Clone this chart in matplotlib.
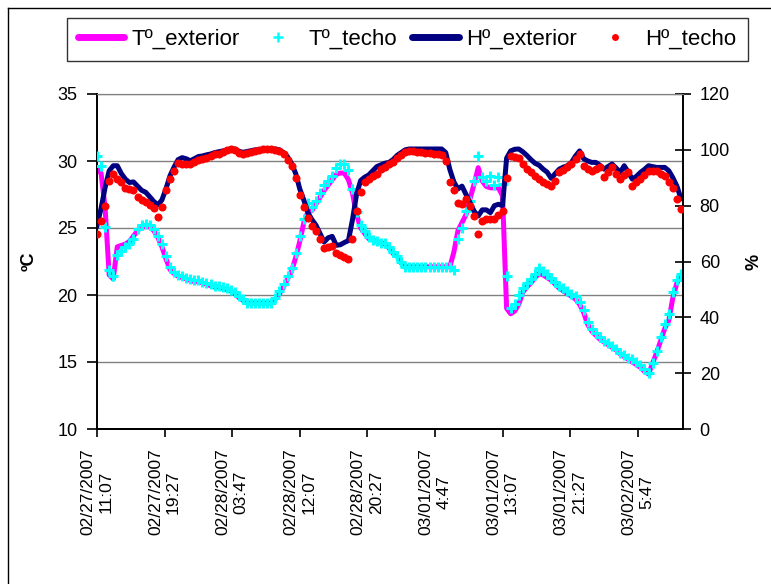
import numpy as np
import matplotlib
matplotlib.use("Agg")
import matplotlib.pyplot as plt
from matplotlib.lines import Line2D

plt.rcParams["font.family"] = ["Liberation Sans", "DejaVu Sans"]

# half-hourly readings starting 02/27/2007 11:07
t_exterior = [
    29.4, 29.1, 26.5, 21.5, 21.2, 23.6, 23.7, 23.8, 24.0, 24.4,
    24.8, 25.1, 25.1, 25.1, 24.8, 24.3, 23.6, 22.7, 21.9, 21.6,
    21.4, 21.3, 21.2, 21.1, 21.0, 21.0, 20.9, 20.8, 20.7, 20.6,
    20.6, 20.5, 20.4, 20.3, 20.1, 19.8, 19.6, 19.4, 19.4, 19.4,
    19.4, 19.4, 19.4, 19.4, 19.7, 20.1, 20.6, 21.2, 21.8, 22.8,
    24.0, 25.4, 26.2, 26.3, 26.8, 27.3, 27.8, 28.2, 28.6, 29.0,
    29.1, 29.1, 28.6, 27.6, 26.0, 25.0, 24.6, 24.2, 24.1, 24.0,
    23.9, 23.8, 23.5, 23.1, 22.9, 22.4, 22.1, 22.1, 22.1, 22.1,
    22.1, 22.1, 22.1, 22.1, 22.1, 22.1, 22.1, 22.1, 23.2, 24.8,
    25.4, 26.0, 27.2, 28.3, 29.5, 28.5, 28.1, 28.0, 28.0, 28.0,
    27.4, 19.0, 18.6, 18.8, 19.3, 20.2, 20.6, 20.9, 21.3, 21.6,
    21.5, 21.3, 21.1, 20.8, 20.5, 20.3, 20.1, 19.9, 19.7, 19.3,
    18.7, 17.8, 17.3, 17.0, 16.7, 16.5, 16.3, 16.1, 15.9, 15.6,
    15.4, 15.2, 15.0, 14.8, 14.6, 14.3, 14.1, 14.9, 15.7, 16.6,
    17.5, 18.1, 19.8, 20.9, 21.4,
]
t_techo = [
    30.4, 29.6, 25.1, 21.9, 21.4, 23.0, 23.3, 23.6, 23.8, 24.2,
    24.9, 25.2, 25.3, 25.2, 24.9, 24.4, 23.8, 22.9, 22.1, 21.7,
    21.5, 21.4, 21.3, 21.2, 21.1, 21.1, 21.0, 20.9, 20.8, 20.7,
    20.7, 20.6, 20.5, 20.4, 20.2, 19.9, 19.7, 19.4, 19.4, 19.4,
    19.4, 19.4, 19.4, 19.4, 19.8, 20.3, 20.8, 21.4, 22.0, 23.1,
    24.4, 25.7, 26.9, 26.6, 27.0, 27.6, 28.2, 28.5, 28.9, 29.5,
    29.8, 29.8, 29.3, 27.9, 26.2, 25.2, 24.8, 24.3, 24.1, 24.0,
    23.9, 23.9, 23.6, 23.2, 22.9, 22.5, 22.1, 22.1, 22.1, 22.1,
    22.1, 22.1, 22.1, 22.1, 22.1, 22.1, 22.1, 22.1, 21.9, 24.2,
    25.0, 26.3, 27.0, 28.5, 30.4, 28.8, 28.5, 28.9, 28.2, 28.8,
    28.3, 21.4, 19.0, 19.3, 20.0, 20.5, 20.9, 21.2, 21.6, 22.0,
    21.8, 21.6, 21.3, 21.0, 20.7, 20.5, 20.3, 20.1, 19.9, 19.5,
    18.9, 18.0, 17.5, 17.2, 16.9, 16.6, 16.4, 16.2, 16.0, 15.7,
    15.5, 15.3, 15.2, 15.0, 14.8, 14.5, 14.2, 14.9, 15.8, 16.9,
    17.8, 18.6, 20.2, 21.1, 21.6,
]
h_exterior = [
    72.8, 79.0, 86.5, 92.5, 94.3, 94.3, 91.5, 89.5, 88.3, 88.5,
    87.0, 85.5, 84.8, 83.2, 81.5, 80.3, 82.0, 86.0, 90.7, 93.8,
    96.5, 97.2, 96.8, 96.1, 96.8, 97.6, 97.8, 98.2, 98.5, 99.0,
    99.3, 99.6, 99.9, 100.3, 100.3, 99.5, 99.1, 99.4, 99.7, 100.0,
    100.0, 100.3, 100.3, 100.3, 100.3, 100.0, 99.0, 97.5, 95.0, 91.5,
    86.0, 82.0, 77.5, 75.0, 73.0, 70.0, 67.0, 68.5, 69.0, 65.8,
    66.0, 66.8, 67.5, 75.0, 84.0, 89.0, 90.2, 91.0, 92.5, 94.0,
    94.6, 95.2, 95.5, 96.5, 98.0, 99.0, 100.0, 100.3, 100.3, 100.3,
    100.3, 100.3, 100.3, 100.3, 100.3, 100.3, 99.0, 93.0, 88.5, 86.0,
    87.0, 84.0, 81.0, 78.0, 76.3, 78.5, 78.5, 77.5, 80.0, 80.5,
    80.0, 97.0, 99.6, 100.2, 100.3, 99.3, 98.0, 96.5, 95.2, 94.5,
    93.1, 92.0, 89.8, 91.5, 93.1, 93.8, 94.3, 95.5, 97.8, 99.6,
    96.8, 96.0, 95.5, 95.5, 94.5, 93.1, 94.0, 94.9, 93.5, 91.9,
    94.3, 92.0, 89.5, 90.5, 91.9, 93.0, 94.3, 94.0, 93.7, 93.7,
    93.7, 92.5, 90.0, 87.0, 82.5,
]
h_techo = [
    69.8, 74.5, 80.0, 89.0, 91.5, 89.5, 88.3, 86.5, 86.0, 85.5,
    83.0, 82.0, 81.2, 80.2, 79.0, 76.0, 79.5, 85.5, 89.5, 92.5,
    95.2, 95.0, 94.8, 94.9, 95.8, 96.5, 96.7, 97.2, 97.8, 98.5,
    98.5, 99.2, 99.8, 100.3, 100.0, 98.8, 98.5, 98.9, 99.3, 99.7,
    99.9, 100.2, 100.2, 100.3, 100.0, 99.5, 98.5, 96.5, 94.3, 90.0,
    84.0, 79.5, 75.5, 72.8, 71.0, 68.0, 65.0, 65.2, 65.6, 63.2,
    62.5, 61.5, 60.8, 68.0, 78.0, 85.0, 88.3, 89.5, 90.5, 91.5,
    93.0, 94.0, 94.8, 95.5, 97.0, 98.0, 99.2, 99.6, 99.5, 99.2,
    99.1, 99.0, 98.8, 98.6, 98.5, 98.0, 96.0, 88.5, 85.5, 81.0,
    80.5, 82.3, 80.0, 76.3, 70.0, 74.5, 75.2, 75.2, 75.2, 76.5,
    78.0, 90.0, 97.8, 97.5, 97.0, 94.8, 93.0, 92.0, 90.7, 89.5,
    88.3, 87.6, 87.1, 89.0, 91.9, 92.8, 93.7, 95.0, 96.7, 98.5,
    94.3, 93.0, 92.5, 93.0, 93.7, 90.1, 92.0, 93.7, 91.5, 89.5,
    91.0, 91.9, 87.1, 88.5, 89.5, 91.0, 92.5, 92.5, 92.5, 91.5,
    90.7, 88.5, 86.5, 82.3, 78.7,
]
tick_labels = [
    "02/27/2007\n11:07", "02/27/2007\n19:27", "02/28/2007\n03:47",
    "02/28/2007\n12:07", "02/28/2007\n20:27", "03/01/2007\n4:47",
    "03/01/2007\n13:07", "03/01/2007\n21:27", "03/02/2007\n5:47",
]
hours = np.arange(len(t_exterior)) * 0.5
tick_hours = [i * 500 / 60 for i in range(len(tick_labels))]

W, H = 771, 584
fig = plt.figure(figsize=(W / 100, H / 100), dpi=100)
ax = fig.add_axes([97 / W, 1 - 429 / H, 586 / W, 335 / H])
ax2 = ax.twinx()

ax.plot(hours, t_exterior, color="#FF00FF", lw=3.6, zorder=2)
ax.plot(hours, t_techo, ls="none", marker="+", ms=7.5, mew=2.2,
        color="#00FFFF", zorder=3)
ax2.plot(hours, h_exterior, color="#000080", lw=3.6, zorder=2)
ax2.plot(hours, h_techo, ls="none", marker="o", ms=5.8, mew=0,
         color="#FF0000", zorder=3)

ax.set_xlim(0, 72.25)
ax.set_ylim(10, 35)
ax2.set_ylim(0, 120)
ax.set_yticks(range(10, 36, 5))
ax2.set_yticks(range(0, 121, 20))
ax.set_xticks(tick_hours)
ax.set_xticklabels(tick_labels, rotation=90, ha="center", va="top",
                   multialignment="center", fontsize=12.5, linespacing=1.25)

ax.grid(axis="y", color="#808080", lw=1)
ax.set_axisbelow(True)
for a in (ax, ax2):
    a.spines["top"].set_color("#808080")
    for s in ("left", "bottom", "right"):
        a.spines[s].set_linewidth(1.4)
ax2.spines["left"].set_visible(False)
ax.spines["right"].set_visible(False)

ax.tick_params(axis="y", direction="out", length=7, width=1.2, labelsize=13, pad=7)
ax.tick_params(axis="x", direction="out", length=6, width=1.2, pad=8)
ax2.tick_params(axis="y", direction="inout", length=12, width=1.2, labelsize=13, pad=6)

ax.set_ylabel("ºC", fontsize=13, fontweight="bold")
ax.yaxis.set_label_coords(-0.102, 0.5)
ax2.set_ylabel("%", fontsize=13, fontweight="bold")
ax2.yaxis.set_label_coords(1.106, 0.5)

handles = [
    Line2D([], [], color="#FF00FF", lw=5, solid_capstyle="round"),
    Line2D([], [], ls="none", marker="+", ms=6.5, mew=1.8, color="#00FFFF"),
    Line2D([], [], color="#000080", lw=5, solid_capstyle="round"),
    Line2D([], [], ls="none", marker="o", ms=5, mew=0, color="#FF0000"),
]
names = ["Tº_exterior", "Tº_techo", "Hº_exterior", "Hº_techo"]
leg = fig.legend(handles, names, ncol=4, loc="upper left",
                 bbox_to_anchor=(66.7 / W, 1 - 18 / H), fontsize=16,
                 frameon=True, fancybox=False, edgecolor="black",
                 handlelength=2.1, handletextpad=0.3, columnspacing=0.7,
                 borderpad=0.5, borderaxespad=0)
leg.get_frame().set_linewidth(1.0)

# outer chart-area frame (only left and top edges fall inside the image)
fig.add_artist(Line2D([7.5 / W, 7.5 / W], [0, 1 - 8 / H], color="black", lw=1))
fig.add_artist(Line2D([7.5 / W, 1], [1 - 8 / H, 1 - 8 / H], color="black", lw=1))

fig.savefig("out.png", dpi=100)
